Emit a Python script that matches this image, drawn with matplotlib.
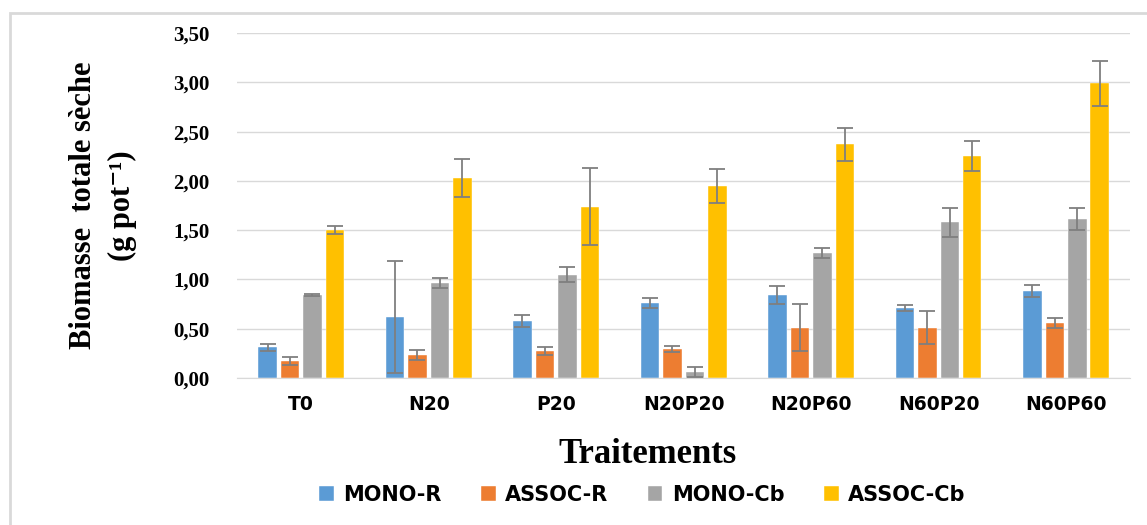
import matplotlib.pyplot as plt
import numpy as np

traitements = ["T0", "N20", "P20", "N20P20", "N20P60", "N60P20", "N60P60"]
series = ["MONO-R", "ASSOC-R", "MONO-Cb", "ASSOC-Cb"]
couleurs = ["#5b9bd5", "#ed7d31", "#a5a5a5", "#ffc000"]

mono_r = [0.31, 0.62, 0.58, 0.76, 0.84, 0.71, 0.88]
assoc_r = [0.17, 0.23, 0.27, 0.29, 0.51, 0.51, 0.56]
mono_cb = [0.84, 0.96, 1.05, 0.06, 1.27, 1.58, 1.61]
assoc_cb = [1.50, 2.03, 1.74, 1.95, 2.37, 2.25, 2.99]

err_mono_r = [0.04, 0.57, 0.06, 0.05, 0.09, 0.03, 0.06]
err_assoc_r = [0.04, 0.05, 0.04, 0.03, 0.24, 0.17, 0.05]
err_mono_cb = [0.01, 0.05, 0.08, 0.05, 0.05, 0.15, 0.11]
err_assoc_cb = [0.04, 0.19, 0.39, 0.17, 0.17, 0.15, 0.23]

valeurs = [mono_r, assoc_r, mono_cb, assoc_cb]
erreurs = [err_mono_r, err_assoc_r, err_mono_cb, err_assoc_cb]

fig = plt.figure(figsize=(11.47, 5.25), dpi=100)
ax = fig.add_axes([0.207, 0.28, 0.778, 0.657])

# cadre gris autour du graphique
fig.patches.append(plt.Rectangle((0.009, -0.01), 1.0, 0.985, transform=fig.transFigure,
                                 fill=False, edgecolor="#d9d9d9", linewidth=2))

x = np.arange(len(traitements))
pas = 0.176
larg = 0.145
for i in range(4):
    pos = x + (i - 1.5) * pas
    ax.bar(pos, valeurs[i], larg, color=couleurs[i], label=series[i],
           edgecolor="white", linewidth=0.3, zorder=2)
    ax.errorbar(pos, valeurs[i], yerr=erreurs[i], fmt="none", ecolor="#7f7f7f",
                elinewidth=1.3, capsize=6, capthick=1.3, zorder=3)

ax.set_xlim(-0.5, len(traitements) - 0.5)
ax.set_ylim(0, 3.5)
yt = np.arange(0, 3.51, 0.5)
ax.set_yticks(yt)
ax.set_yticklabels([f"{v:.2f}".replace(".", ",") for v in yt],
                   fontfamily="Liberation Serif", fontweight="bold", fontsize=15)
ax.set_xticks(x)
ax.set_xticklabels(traitements, fontfamily="DejaVu Sans", fontweight="bold", fontsize=13.5)
ax.tick_params(axis="both", length=0)
ax.tick_params(axis="y", pad=20)
ax.tick_params(axis="x", pad=12)
ax.yaxis.grid(True, color="#d9d9d9", linewidth=1)
ax.set_axisbelow(True)
for s in ["top", "right", "left"]:
    ax.spines[s].set_visible(False)
ax.spines["bottom"].set_color("#d9d9d9")

ax.set_ylabel("Biomasse  totale sèche\n(g pot\u207b\u00b9)",
              fontfamily=["Liberation Serif", "DejaVu Serif"],
              fontweight="bold", fontsize=22, linespacing=1.45)
ax.yaxis.set_label_coords(-0.112, 0.5)
ax.set_xlabel("Traitements", fontfamily="Liberation Serif", fontweight="bold", fontsize=25)
ax.xaxis.set_label_coords(0.46, -0.175)

fig.legend(loc="center", bbox_to_anchor=(0.56, 0.057), ncol=4, frameon=False,
           prop={"family": "DejaVu Sans", "weight": "bold", "size": 15},
           handlelength=0.7, handleheight=0.7, columnspacing=1.9, handletextpad=0.45)

fig.savefig("out.png", dpi=100)
